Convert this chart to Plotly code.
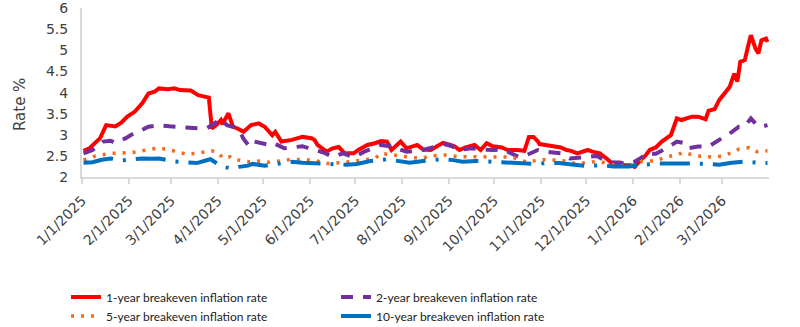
import plotly.graph_objects as go

# Breakeven inflation rates (%), Jan 2025 - Mar 2026
dates_1y = [
    "2025-01-02", "2025-01-06", "2025-01-13", "2025-01-17", "2025-01-23", "2025-01-27",
    "2025-01-31", "2025-02-05", "2025-02-10", "2025-02-14", "2025-02-18", "2025-02-21",
    "2025-02-27", "2025-03-03", "2025-03-07", "2025-03-14", "2025-03-19", "2025-03-24",
    "2025-03-26", "2025-03-28", "2025-03-31", "2025-04-03", "2025-04-04", "2025-04-08",
    "2025-04-11", "2025-04-14", "2025-04-18", "2025-04-23", "2025-04-28", "2025-05-02",
    "2025-05-07", "2025-05-09", "2025-05-13", "2025-05-20", "2025-05-27", "2025-06-02",
    "2025-06-04", "2025-06-06", "2025-06-12", "2025-06-16", "2025-06-20", "2025-06-24",
    "2025-06-30", "2025-07-03", "2025-07-09", "2025-07-14", "2025-07-18", "2025-07-22",
    "2025-07-25", "2025-07-31", "2025-08-04", "2025-08-11", "2025-08-15", "2025-08-20",
    "2025-08-25", "2025-08-28", "2025-09-02", "2025-09-05", "2025-09-08", "2025-09-12",
    "2025-09-18", "2025-09-22", "2025-09-26", "2025-09-30", "2025-10-06", "2025-10-10",
    "2025-10-16", "2025-10-21", "2025-10-24", "2025-10-27", "2025-10-30", "2025-10-31",
    "2025-11-04", "2025-11-10", "2025-11-14", "2025-11-18", "2025-11-21", "2025-11-25",
    "2025-11-28", "2025-12-02", "2025-12-05", "2025-12-10", "2025-12-15", "2025-12-18",
    "2025-12-23", "2025-12-26", "2025-12-30", "2026-01-02", "2026-01-06", "2026-01-09",
    "2026-01-12", "2026-01-16", "2026-01-20", "2026-01-23", "2026-01-26", "2026-01-28",
    "2026-01-30", "2026-02-02", "2026-02-05", "2026-02-09", "2026-02-13", "2026-02-18",
    "2026-02-20", "2026-02-24", "2026-02-27", "2026-03-03", "2026-03-06", "2026-03-09",
    "2026-03-11", "2026-03-13", "2026-03-16", "2026-03-18", "2026-03-20", "2026-03-23",
    "2026-03-25", "2026-03-27", "2026-03-30", "2026-03-31",
]
rate_1y = [
    2.62, 2.68, 2.92, 3.23, 3.20, 3.29,
    3.43, 3.55, 3.75, 3.98, 4.02, 4.10,
    4.08, 4.10, 4.06, 4.05, 3.94, 3.90,
    3.88, 3.15, 3.23, 3.35, 3.25, 3.51,
    3.19, 3.15, 3.07, 3.23, 3.27, 3.19,
    2.99, 3.07, 2.84, 2.88, 2.95, 2.92,
    2.88, 2.76, 2.60, 2.68, 2.71, 2.56,
    2.56, 2.64, 2.76, 2.80, 2.85, 2.84,
    2.64, 2.84, 2.68, 2.76, 2.65, 2.64,
    2.76, 2.81, 2.76, 2.72, 2.64, 2.70,
    2.76, 2.64, 2.80, 2.73, 2.70, 2.64,
    2.64, 2.62, 2.95, 2.95, 2.84, 2.78,
    2.76, 2.72, 2.70, 2.64, 2.62, 2.56,
    2.60, 2.64, 2.60, 2.56, 2.42, 2.32,
    2.34, 2.28, 2.28, 2.24, 2.40, 2.50,
    2.64, 2.70, 2.84, 2.92, 2.99, 3.19,
    3.39, 3.35, 3.39, 3.43, 3.43, 3.37,
    3.57, 3.61, 3.82, 4.02, 4.14, 4.45,
    4.26, 4.73, 4.77, 5.08, 5.36, 5.05,
    4.93, 5.24, 5.28, 5.20,
]

dates_2y = [
    "2025-01-02", "2025-01-08", "2025-01-15", "2025-01-20", "2025-01-23", "2025-01-30",
    "2025-02-04", "2025-02-07", "2025-02-14", "2025-02-21", "2025-02-28", "2025-03-06",
    "2025-03-13", "2025-03-20", "2025-03-25", "2025-03-31", "2025-04-02", "2025-04-07",
    "2025-04-11", "2025-04-14", "2025-04-16", "2025-04-18", "2025-04-22", "2025-04-25",
    "2025-05-05", "2025-05-08", "2025-05-15", "2025-05-22", "2025-05-27", "2025-06-04",
    "2025-06-10", "2025-06-16", "2025-06-23", "2025-06-30", "2025-07-07", "2025-07-14",
    "2025-07-18", "2025-07-24", "2025-07-31", "2025-08-04", "2025-08-15", "2025-08-29",
    "2025-09-03", "2025-09-08", "2025-09-16", "2025-09-23", "2025-10-01", "2025-10-07",
    "2025-10-17", "2025-10-21", "2025-10-30", "2025-11-04", "2025-11-14", "2025-11-20",
    "2025-12-01", "2025-12-08", "2025-12-15", "2025-12-22", "2025-12-29", "2026-01-02",
    "2026-01-07", "2026-01-09", "2026-01-16", "2026-01-23", "2026-01-30", "2026-02-04",
    "2026-02-06", "2026-02-13", "2026-02-20", "2026-02-27", "2026-03-06", "2026-03-12",
    "2026-03-16", "2026-03-20", "2026-03-24", "2026-03-27", "2026-03-31",
]
rate_2y = [
    2.56, 2.64, 2.84, 2.86, 2.81, 2.92,
    3.03, 3.07, 3.19, 3.23, 3.20, 3.18,
    3.16, 3.15, 3.16, 3.30, 3.39, 3.23,
    3.19, 3.15, 3.05, 2.90, 2.72, 2.84,
    2.76, 2.80, 2.68, 2.72, 2.73, 2.64,
    2.58, 2.48, 2.56, 2.47, 2.60, 2.70,
    2.76, 2.73, 2.64, 2.60, 2.64, 2.78,
    2.73, 2.64, 2.68, 2.65, 2.64, 2.65,
    2.48, 2.50, 2.64, 2.60, 2.56, 2.44,
    2.47, 2.50, 2.36, 2.34, 2.32, 2.36,
    2.47, 2.56, 2.55, 2.68, 2.84, 2.80,
    2.68, 2.72, 2.72, 2.88, 3.03, 3.19,
    3.20, 3.39, 3.23, 3.19, 3.23,
]

dates_5y = [
    "2025-01-02", "2025-01-10", "2025-01-20", "2025-02-03", "2025-02-10", "2025-02-19",
    "2025-02-26", "2025-03-05", "2025-03-11", "2025-03-18", "2025-03-24", "2025-03-28",
    "2025-04-02", "2025-04-04", "2025-04-09", "2025-04-11", "2025-04-15", "2025-04-22",
    "2025-04-29", "2025-05-05", "2025-05-12", "2025-05-20", "2025-06-03", "2025-06-12",
    "2025-06-23", "2025-07-03", "2025-07-14", "2025-07-18", "2025-07-25", "2025-08-04",
    "2025-08-13", "2025-08-21", "2025-08-29", "2025-09-08", "2025-09-17", "2025-09-26",
    "2025-10-03", "2025-10-13", "2025-10-22", "2025-10-27", "2025-10-31", "2025-11-10",
    "2025-11-18", "2025-11-24", "2025-12-01", "2025-12-08", "2025-12-15", "2025-12-22",
    "2025-12-29", "2026-01-02", "2026-01-07", "2026-01-16", "2026-01-23", "2026-01-30",
    "2026-02-03", "2026-02-09", "2026-02-13", "2026-02-23", "2026-03-02", "2026-03-06",
    "2026-03-12", "2026-03-19", "2026-03-24", "2026-03-31",
]
rate_5y = [
    2.40, 2.50, 2.56, 2.58, 2.62, 2.68,
    2.66, 2.60, 2.54, 2.56, 2.60, 2.62,
    2.56, 2.45, 2.48, 2.42, 2.40, 2.36,
    2.38, 2.35, 2.38, 2.42, 2.40, 2.32,
    2.34, 2.38, 2.44, 2.56, 2.52, 2.48,
    2.44, 2.50, 2.52, 2.48, 2.48, 2.48,
    2.47, 2.47, 2.36, 2.38, 2.42, 2.40,
    2.38, 2.31, 2.35, 2.37, 2.33, 2.25,
    2.28, 2.28, 2.38, 2.38, 2.48, 2.52,
    2.58, 2.54, 2.50, 2.47, 2.50, 2.56,
    2.66, 2.70, 2.60, 2.62,
]

dates_10y = [
    "2025-01-02", "2025-01-08", "2025-01-14", "2025-01-20", "2025-01-27", "2025-02-03",
    "2025-02-10", "2025-02-17", "2025-02-21", "2025-03-03", "2025-03-11", "2025-03-18",
    "2025-03-24", "2025-03-27", "2025-04-04", "2025-04-11", "2025-04-15", "2025-04-21",
    "2025-04-24", "2025-05-02", "2025-05-12", "2025-05-20", "2025-05-27", "2025-06-06",
    "2025-06-16", "2025-06-25", "2025-07-02", "2025-07-11", "2025-07-22", "2025-07-31",
    "2025-08-06", "2025-08-15", "2025-08-26", "2025-09-04", "2025-09-10", "2025-09-19",
    "2025-09-30", "2025-10-09", "2025-10-16", "2025-10-27", "2025-11-04", "2025-11-13",
    "2025-11-20", "2025-12-01", "2025-12-11", "2025-12-19", "2025-12-29", "2026-01-06",
    "2026-01-16", "2026-01-23", "2026-02-02", "2026-02-10", "2026-02-20", "2026-02-27",
    "2026-03-06", "2026-03-17", "2026-03-26", "2026-03-31",
]
rate_10y = [
    2.34, 2.35, 2.41, 2.44, 2.39, 2.42,
    2.44, 2.43, 2.44, 2.37, 2.34, 2.33,
    2.39, 2.42, 2.24, 2.20, 2.24, 2.27,
    2.31, 2.27, 2.32, 2.36, 2.34, 2.33,
    2.31, 2.29, 2.31, 2.38, 2.42, 2.37,
    2.34, 2.38, 2.42, 2.40, 2.36, 2.38,
    2.36, 2.34, 2.32, 2.31, 2.33, 2.33,
    2.30, 2.26, 2.28, 2.25, 2.25, 2.28,
    2.32, 2.32, 2.33, 2.32, 2.31, 2.29,
    2.33, 2.37, 2.33, 2.33,
]

month_ticks = [
    "2025-01-01", "2025-02-01", "2025-03-01", "2025-04-01", "2025-05-01",
    "2025-06-01", "2025-07-01", "2025-08-01", "2025-09-01", "2025-10-01",
    "2025-11-01", "2025-12-01", "2026-01-01", "2026-02-01", "2026-03-01",
]
month_labels = [
    "1/1/2025", "2/1/2025", "3/1/2025", "4/1/2025", "5/1/2025",
    "6/1/2025", "7/1/2025", "8/1/2025", "9/1/2025", "10/1/2025",
    "11/1/2025", "12/1/2025", "1/1/2026", "2/1/2026", "3/1/2026",
]
y_ticks = [2, 2.5, 3, 3.5, 4, 4.5, 5, 5.5, 6]

# name, x, y, colour, dash, width, legend box, legend x, legend y (container fractions)
series = [
    ("1-year breakeven inflation rate", dates_1y, rate_1y, "#FF0000", "solid", 4, "legend", 0.0825, 0.092),
    ("2-year breakeven inflation rate", dates_2y, rate_2y, "#7030A0", "12px,10px", 4, "legend2", 0.42, 0.092),
    ("5-year breakeven inflation rate", dates_5y, rate_5y, "#F26B1D", "3px,7px", 3.5, "legend3", 0.0825, 0.034),
    ("10-year breakeven inflation rate", dates_10y, rate_10y, "#0070C0", "30px,10px,3px,10px", 4, "legend4", 0.42, 0.034),
]

axis_font = dict(family="DejaVu Sans, Verdana, sans-serif", size=14, color="#404040")
title_font = dict(family="DejaVu Sans, Verdana, sans-serif", size=15, color="#404040")
legend_font = dict(family="Lato", size=12, color="#222222")

fig = go.Figure()
legends = {}
for name, xs, ys, color, dash, width, leg, lx, ly in series:
    fig.add_trace(go.Scatter(
        x=xs, y=ys, name=name, mode="lines", legend=leg,
        line=dict(color=color, width=width, dash=dash),
    ))
    legends[leg] = dict(
        orientation="v", xref="container", yref="container",
        x=lx, y=ly, xanchor="left", yanchor="middle",
        font=legend_font, itemwidth=30, bgcolor="rgba(0,0,0,0)",
    )

fig.update_layout(
    width=800, height=327,
    margin=dict(l=82, r=31, t=8, b=150, autoexpand=False),
    paper_bgcolor="white", plot_bgcolor="white",
    showlegend=True,
    **legends,
    xaxis=dict(
        type="date", range=["2025-01-01", "2026-04-01"],
        tickmode="array", tickvals=month_ticks, ticktext=month_labels,
        tickangle=-45, tickfont=axis_font, ticklabelstandoff=3,
        showline=True, linecolor="#D9D9D9", linewidth=2,
        ticks="outside", ticklen=5, tickcolor="#D9D9D9", tickwidth=1.5,
        showgrid=False, zeroline=False,
    ),
    yaxis=dict(
        range=[2, 6.005], tickmode="array", tickvals=y_ticks,
        tickfont=axis_font, ticklabelstandoff=9,
        showline=True, linecolor="#D9D9D9", linewidth=2,
        showgrid=False, zeroline=False,
    ),
    annotations=[dict(
        text="Rate %", textangle=-90, showarrow=False,
        xref="paper", yref="paper", x=-0.0902, y=0.426,
        xanchor="center", yanchor="middle", font=title_font,
    )],
)

fig.write_html("out.html")
